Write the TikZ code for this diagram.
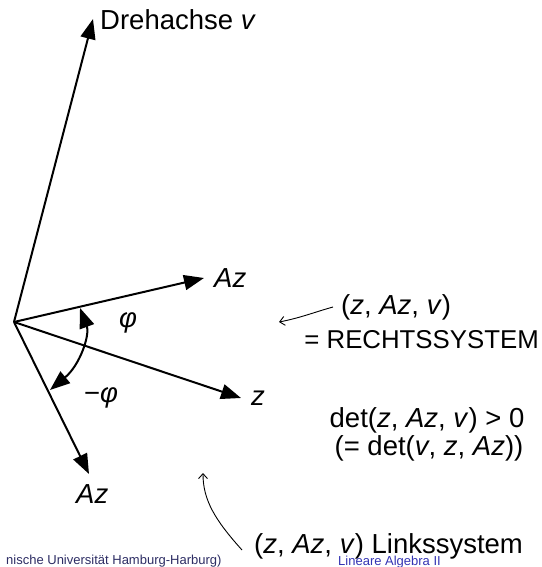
\documentclass[tikz,border=0pt]{standalone}
\usepackage{fontspec}
\setmainfont{Liberation Sans}
\usetikzlibrary{arrows.meta}
\newcommand{\mi}[1]{\textit{#1}}
\definecolor{footA}{RGB}{45,45,100}
\definecolor{footB}{RGB}{51,51,179}
\begin{document}
\begin{tikzpicture}[x=1pt,y=-1pt,
  vec/.style={line width=2pt,-{Triangle[length=20pt,width=15pt]}},
  anglearc/.style={line width=2pt,{Triangle[length=20pt,width=15pt]}-{Triangle[length=20pt,width=15pt]}},
  thinarrow/.style={line width=0.9pt,-{Straight Barb[length=5pt,width=9pt]}},
  lbl/.style={inner sep=0pt,font=\fontsize{27.5}{33}\selectfont},
  foot/.style={inner sep=0pt,font=\fontsize{13}{15}\selectfont}]
\useasboundingbox (0,0) rectangle (541,567);

% origin and vector tips
\coordinate (O) at (14,322);
\coordinate (vtip) at (93,19);
\coordinate (Aztip) at (204,278);
\coordinate (ztip) at (241,398);
\coordinate (Azmtip) at (89,474);

\draw[vec] (O) -- (vtip);
\draw[vec] (O) -- (Aztip);
\draw[vec] (O) -- (ztip);
\draw[vec] (O) -- (Azmtip);

% angle arc
\coordinate (arcA) at (80,308);
\coordinate (arcB) at (50,390);
\draw[anglearc] (arcA) .. controls (90,335) and (80,365) .. (arcB);

% labels
\node[lbl,anchor=base west] (lv) at (100,30) {Drehachse \mi{v}};
\node[lbl,anchor=base west] (lAz) at (214,287) {\mi{Az}};
\node[lbl,anchor=base west] (lz) at (251,405) {\mi{z}};
\node[lbl,anchor=base west] (lAzm) at (76,503) {\mi{Az}};
\node[lbl] (lphi) at (128,323) {\mi{φ}};
\node[lbl] (lmphi) at (101,398) {−\mi{φ}};

\node[lbl,anchor=base west] (rs1) at (341,314) {(\mi{z}, \mi{Az}, \mi{v})};
\node[lbl,anchor=base east,font=\fontsize{25.8}{31}\selectfont] (rs2) at (539,348) {= RECHTSSYSTEM};
\node[lbl,anchor=base] (det1) at (427,427) {det(\mi{z}, \mi{Az}, \mi{v}) > 0};
\node[lbl,anchor=base] (det2) at (429,455) {(= det(\mi{v}, \mi{z}, \mi{Az}))};
\node[lbl,anchor=base west] (ls) at (254,553) {(\mi{z}, \mi{Az}, \mi{v}) Linkssystem};

% thin curved pointers
\coordinate (p1s) at (333,307);
\coordinate (p1e) at (279,322);
\draw[thinarrow] (p1s) .. controls (315,312) and (300,318) .. (p1e);
\coordinate (p2s) at (242,550);
\coordinate (p2e) at (203,473);
\draw[thinarrow] (p2s) .. controls (215,520) and (203,500) .. (p2e);

% footer
\node[foot,anchor=base west,text=footA] (f1) at (6,564) {nische Universität Hamburg-Harburg)};
\node[foot,anchor=base west,text=footB] (f2) at (338,565) {Lineare Algebra II};
\end{tikzpicture}
\end{document}
